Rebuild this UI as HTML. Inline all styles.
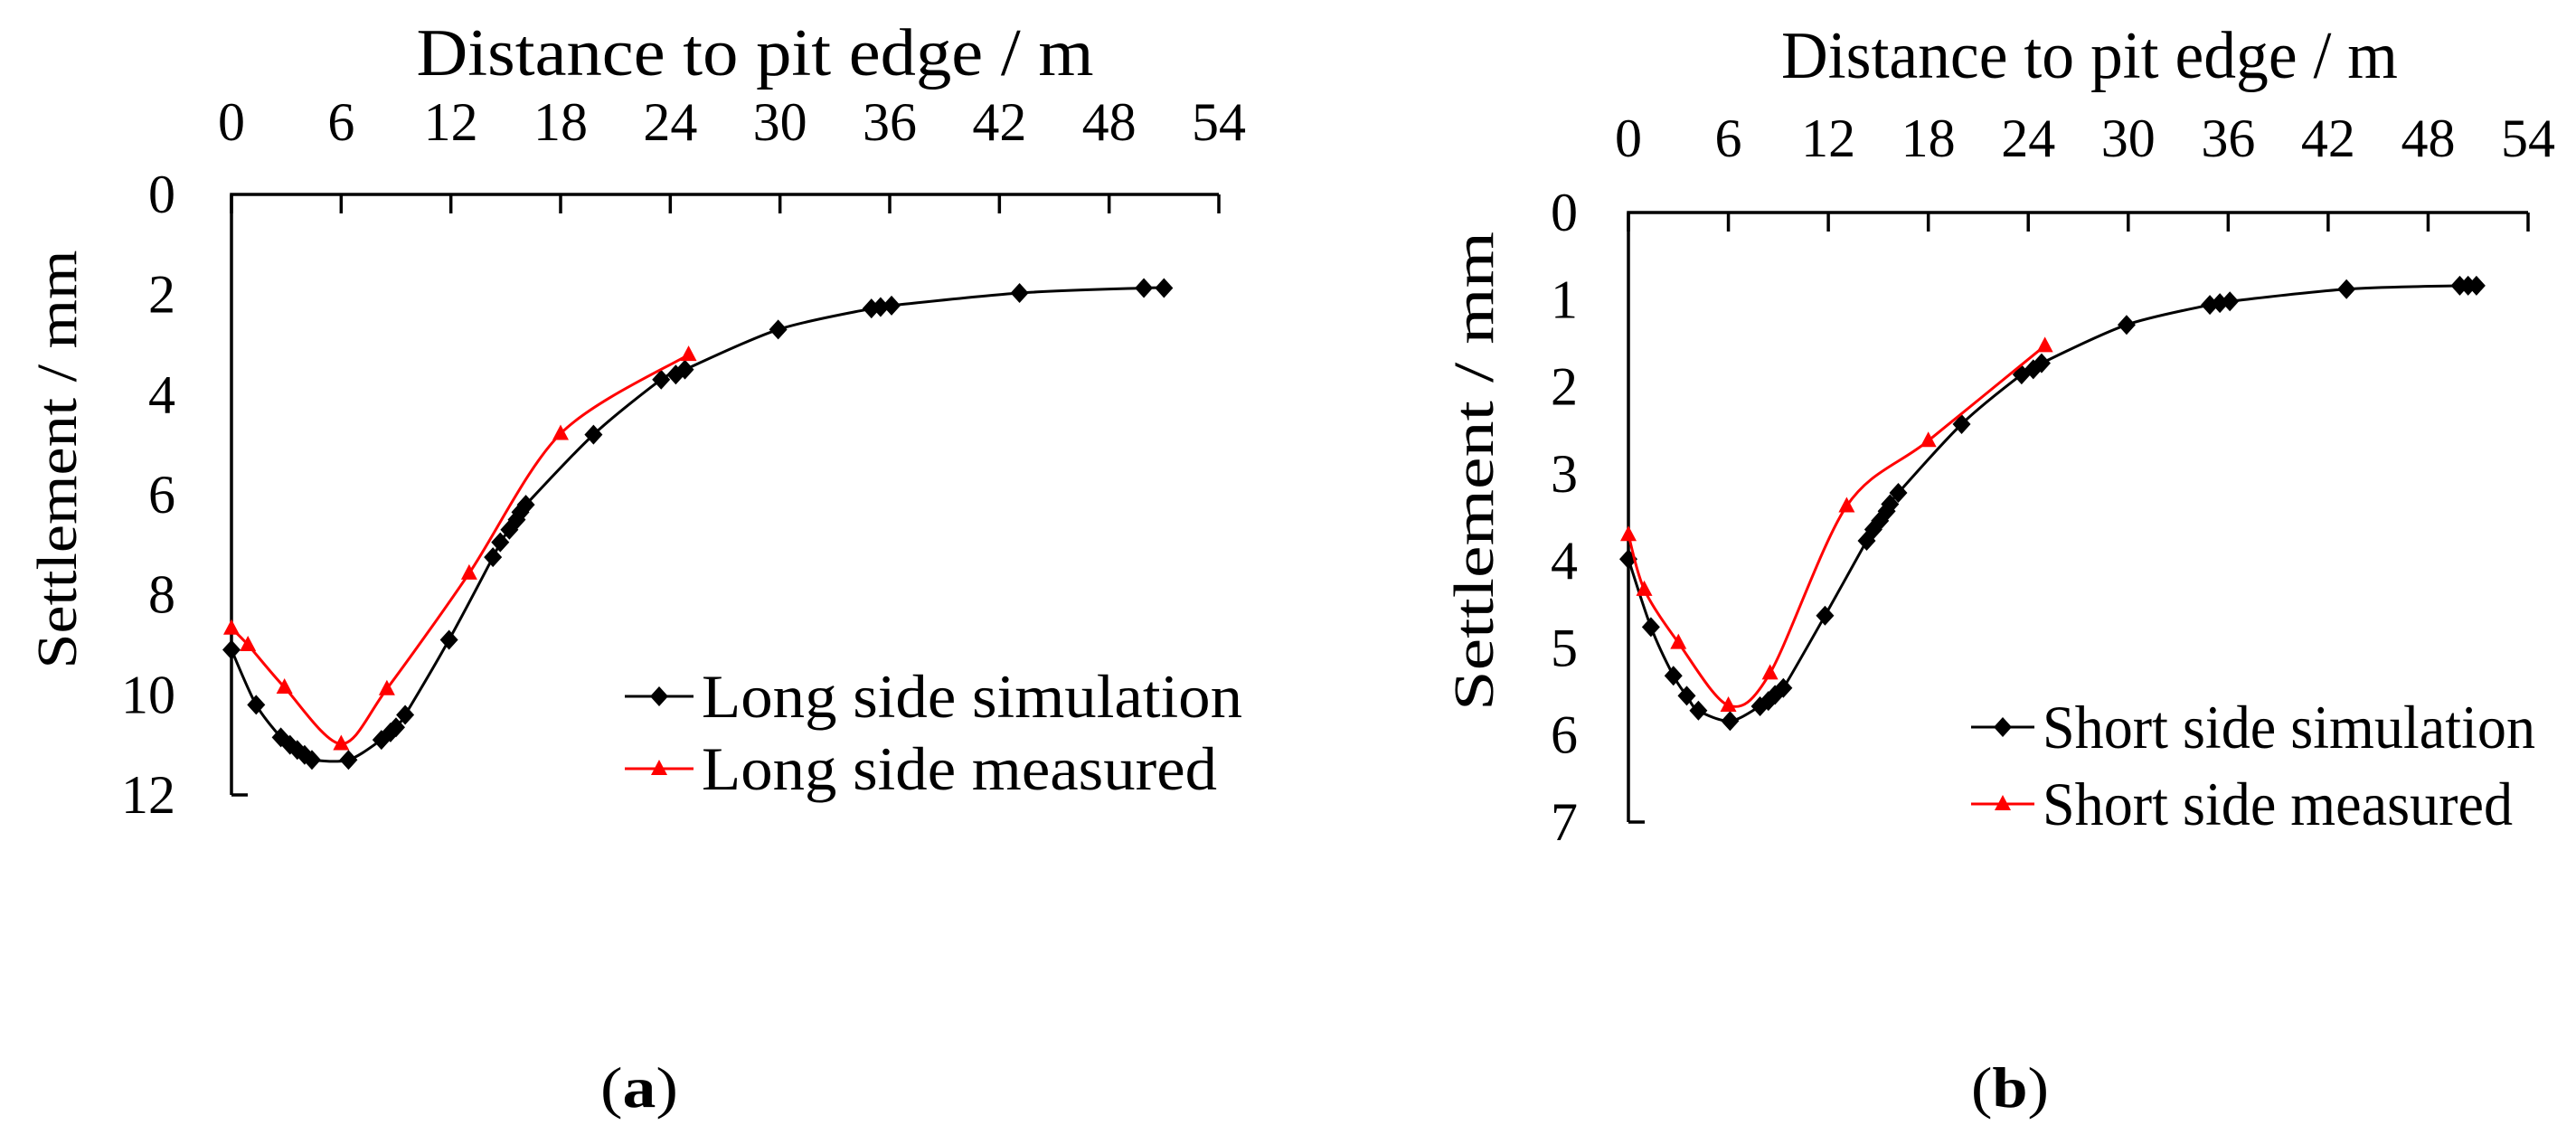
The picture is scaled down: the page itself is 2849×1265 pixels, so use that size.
<!DOCTYPE html>
<html><head><meta charset="utf-8"><style>
html,body{margin:0;padding:0;background:#fff;overflow:hidden;}
svg{display:block;font-family:"Liberation Serif",serif;}
</style></head><body>
<svg id="fig" width="2849" height="1265" viewBox="0 0 2849 1265" xmlns="http://www.w3.org/2000/svg">
<g id="chartA"></g>
<g id="chartB"></g>
<text x="707" y="1224" font-size="64" text-anchor="middle" textLength="86" lengthAdjust="spacingAndGlyphs">(<tspan font-weight="bold">a</tspan>)</text>
<text x="2223" y="1224" font-size="64" text-anchor="middle" textLength="86" lengthAdjust="spacingAndGlyphs">(<tspan font-weight="bold">b</tspan>)</text>
</svg>
<script>
const xTicks=[0,6,12,18,24,30,36,42,48,54];
const yTicksA=[0,2,4,6,8,10,12];
const yTicksB=[0,1,2,3,4,5,6,7];
const simAx=[0,1.35,2.7,3.2,3.6,4,4.4,6.4,8.2,8.7,9,9.5,11.9,14.3,14.7,15.2,15.6,15.8,16.1,19.8,23.5,24.3,24.8,29.9,35,35.5,36.1,43.1,49.9,51];
const simAy=[9.1,10.2,10.85,11.0,11.1,11.2,11.3,11.3,10.9,10.75,10.65,10.4,8.9,7.25,6.95,6.7,6.5,6.35,6.2,4.8,3.7,3.6,3.5,2.7,2.28,2.25,2.22,1.97,1.87,1.87];
const meaAx=[0,0.9,2.9,6,8.5,13,18,25];
const meaAy=[8.67,9.0,9.85,10.98,9.88,7.57,4.78,3.2];
const simBx=[0,1.35,2.7,3.5,4.2,6.1,7.9,8.4,8.8,9.3,11.8,14.3,14.7,15.1,15.5,15.7,16.2,20,23.6,24.3,24.8,29.9,34.9,35.5,36.1,43.1,49.9,50.4,50.9];
const simBy=[3.98,4.76,5.32,5.55,5.72,5.84,5.67,5.61,5.54,5.46,4.63,3.77,3.64,3.54,3.43,3.35,3.22,2.43,1.86,1.8,1.73,1.29,1.06,1.04,1.02,0.88,0.84,0.84,0.84];
const meaBx=[0,0.95,3,6,8.5,13.1,18,25];
const meaBy=[3.70,4.33,4.94,5.66,5.29,3.37,2.62,1.53];

const NS="http://www.w3.org/2000/svg";
function mk(parent,tag,attrs,text){const e=document.createElementNS(NS,tag);for(const k in attrs)e.setAttribute(k,attrs[k]);if(text!==undefined)e.textContent=text;parent.appendChild(e);return e;}
function smooth(pts){let d="M"+pts[0][0]+","+pts[0][1];const t=0.15;for(let i=0;i<pts.length-1;i++){const p0=pts[i-1]||pts[i],p1=pts[i],p2=pts[i+1],p3=pts[i+2]||p2;const c1=[p1[0]+(p2[0]-p0[0])*t,p1[1]+(p2[1]-p0[1])*t];const c2=[p2[0]-(p3[0]-p1[0])*t,p2[1]-(p3[1]-p1[1])*t];d+=" C"+c1[0].toFixed(1)+","+c1[1].toFixed(1)+" "+c2[0].toFixed(1)+","+c2[1].toFixed(1)+" "+p2[0].toFixed(1)+","+p2[1].toFixed(1);}return d;}
function diamond(q){return q[0]+','+(q[1]-11)+' '+(q[0]+10)+','+q[1]+' '+q[0]+','+(q[1]+11)+' '+(q[0]-10)+','+q[1];}
function tri(q){return q[0]+','+(q[1]-10)+' '+(q[0]+9)+','+(q[1]+7)+' '+(q[0]-9)+','+(q[1]+7);}

function chart(g,cfg){
  const X=v=>cfg.x0+v/54*(cfg.x1-cfg.x0);
  const Y=v=>cfg.y0+v/cfg.ymax*(cfg.y1-cfg.y0);
  const title=mk(g,'text',{x:cfg.titleX,y:cfg.titleY,'font-size':74,'text-anchor':'middle',textLength:cfg.titleW,lengthAdjust:'spacingAndGlyphs'},'Distance to pit edge / m');
  
  
  const yl=mk(g,'text',{x:0,y:0,'font-size':62,'text-anchor':'middle',textLength:cfg.ylW,lengthAdjust:'spacingAndGlyphs',transform:'translate('+(cfg.ylX+22)+','+cfg.ylY+') rotate(-90)'},'Settlement / mm');
  
  
  const ax=mk(g,'path',{d:'M'+cfg.x0+','+cfg.y1+' L'+cfg.x0+','+cfg.y0+' L'+cfg.x1+','+cfg.y0,fill:'none',stroke:'#000','stroke-width':3.5});
  
  
  const cap=mk(g,'line',{x1:cfg.x0,y1:cfg.y1,x2:cfg.x0+18,y2:cfg.y1,stroke:'#000','stroke-width':3.5});
  
  
  xTicks.forEach(t=>{
    const l=mk(g,'line',{x1:X(t),y1:cfg.y0,x2:X(t),y2:cfg.y0+21,stroke:'#000','stroke-width':3.5});
    
    
    const s=String(t);
    const tx=mk(g,'text',{x:X(t),y:cfg.xtY,'font-size':60,'text-anchor':'middle',textLength:s.length*30,lengthAdjust:'spacingAndGlyphs'},s);
    
    
  });
  cfg.yTicks.forEach(t=>{
    const s=String(t);
    const tx=mk(g,'text',{x:cfg.ytR,y:Y(t)+20,'font-size':60,'text-anchor':'end',textLength:s.length*30,lengthAdjust:'spacingAndGlyphs'},s);
    
    
  });
  function series(xs,ys,color,marker,name){
    const pts=xs.map((v,i)=>[X(v),Y(ys[i])]);
    const p=mk(g,'path',{d:smooth(pts),fill:'none',stroke:color,'stroke-width':3});
    
    
    pts.forEach(q=>{
      const m=mk(g,'polygon',{points:marker==='d'?diamond(q):tri(q),fill:color});
      
      
    });
  }
  series(cfg.sx,cfg.sy,'#000','d','simulation');
  series(cfg.mx,cfg.my,'#f00','t','measured');
  [[cfg.simLabel,'#000','d',cfg.lgY1,cfg.lgW1],[cfg.meaLabel,'#f00','t',cfg.lgY2,cfg.lgW2]].forEach(([lab,c,mkr,y,w])=>{
    const l=mk(g,'line',{x1:cfg.lgX1,y1:y,x2:cfg.lgX2,y2:y,stroke:c,'stroke-width':3});
    
    
    const cx=(cfg.lgX1+cfg.lgX2)/2;
    const m=mk(g,'polygon',{points:mkr==='d'?diamond([cx,y]):tri([cx,y]),fill:c});
    
    
    const t=mk(g,'text',{x:cfg.lgTX,y:y+23,'font-size':68,textLength:w,lengthAdjust:'spacingAndGlyphs'},lab);
    
    
  });
}
chart(document.getElementById('chartA'),{x0:256,x1:1348,y0:215,y1:879,ymax:12,yTicks:yTicksA,
  titleX:835,titleY:83,titleW:749,ylX:62,ylY:508,ylW:463,xtY:155,ytR:194,
  sx:simAx,sy:simAy,mx:meaAx,my:meaAy,simLabel:'Long side simulation',meaLabel:'Long side measured',
  lgX1:691,lgX2:767,lgY1:770,lgY2:850,lgTX:776,lgW1:598,lgW2:570});
chart(document.getElementById('chartB'),{x0:1801,x1:2796,y0:235,y1:909,ymax:7,yTicks:yTicksB,
  titleX:2311,titleY:86,titleW:682,ylX:1629,ylY:521,ylW:530,xtY:173,ytR:1745,
  sx:simBx,sy:simBy,mx:meaBx,my:meaBy,simLabel:'Short side simulation',meaLabel:'Short side measured',
  lgX1:2180,lgX2:2250,lgY1:804,lgY2:889,lgTX:2259,lgW1:545,lgW2:520});
</script>
</body></html>
